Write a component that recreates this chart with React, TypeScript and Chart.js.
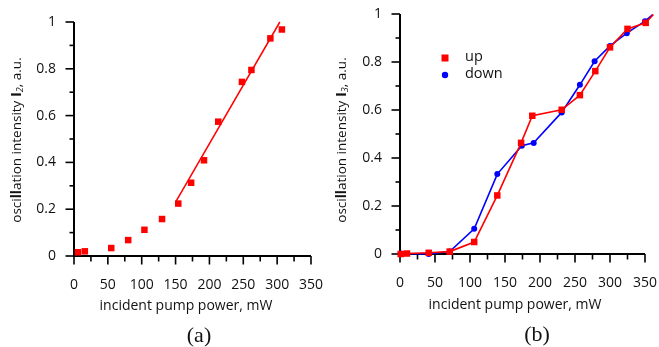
import React, { useEffect, useRef } from 'react';
import { Chart, registerables } from 'chart.js';

Chart.register(...registerables);

// ---- data ----
const powerA = [6, 16, 55, 80, 104, 130, 154, 173, 192, 213, 248, 262, 290, 307];
const intensityA = [0.016, 0.02, 0.034, 0.068, 0.112, 0.158, 0.224, 0.313, 0.409, 0.574, 0.744, 0.795, 0.93, 0.968];
const fitPowerA = [150, 304];
const fitIntensityA = [0.23, 1.0];

const powerUp = [1, 10, 41, 71, 106, 139, 173, 189, 231, 257, 279, 300, 325, 351, 362];
const intensityUp = [0, 0.002, 0.005, 0.01, 0.05, 0.244, 0.463, 0.576, 0.601, 0.662, 0.762, 0.861, 0.938, 0.963, 0.998];
const powerDown = [1, 41, 71, 106, 139, 174, 191, 231, 257, 278, 300, 324, 350, 361];
const intensityDown = [0.002, 0, 0.01, 0.105, 0.333, 0.451, 0.463, 0.59, 0.705, 0.803, 0.867, 0.92, 0.97, 0.998];

const xMin = 0;
const xMax = 350;
const xMajorStep = 50;
const xMinorStep = 25;
const yMin = 0;
const yMax = 1;
const yMajorStep = 0.2;
const yMinorStep = 0.1;

const xTitle = 'incident pump power, mW';
const yTitleSubA = '2';
const yTitleSubB = '3';
const panelA = '(a)';
const panelB = '(b)';
const legendLabels = ['up', 'down'];

const RED = '#ff0000';
const BLUE = '#0000ff';
const FONT = "'Open Sans', 'DejaVu Sans', sans-serif";

const pts = (xs: number[], ys: number[]) => xs.map((x, i) => ({ x, y: ys[i] }));

type PanelCfg = {
  width: number;
  height: number;
  padTop: number;
  padRight: number;
  yWidth: number;
  xHeight: number;
  yTitleX: number;
  yTitleY: number;
  yTitleSub: string;
  xTitleX: number;
  xTitleY: number;
  panel: string;
  panelX: number;
  panelY: number;
  legend?: { x: number; y: number; dy: number; textX: number };
};

function drawVerticalRich(ctx: CanvasRenderingContext2D, cx: number, cy: number, sub: string) {
  const segs = [
    { t: 'osci', f: `13.5px ${FONT}`, dy: 0 },
    { t: 'll', f: `bold 13.5px ${FONT}`, dy: 0 },
    { t: 'ation intensity ', f: `13.5px ${FONT}`, dy: 0 },
    { t: 'I', f: `bold 15px ${FONT}`, dy: 0 },
    { t: sub, f: `italic 9px ${FONT}`, dy: 3 },
    { t: ', a.u.', f: `13.5px ${FONT}`, dy: 0 },
  ];
  let total = 0;
  const widths = segs.map((s) => {
    ctx.font = s.f;
    const w = ctx.measureText(s.t).width;
    total += w;
    return w;
  });
  ctx.save();
  ctx.translate(cx, cy);
  ctx.rotate(-Math.PI / 2);
  ctx.fillStyle = '#111';
  ctx.textBaseline = 'middle';
  ctx.textAlign = 'left';
  let x = -total / 2;
  segs.forEach((s, i) => {
    ctx.font = s.f;
    ctx.fillText(s.t, x, s.dy);
    x += widths[i];
  });
  ctx.restore();
}

function makeDecor(cfg: PanelCfg) {
  return {
    id: 'decor',
    beforeDatasetsDraw(chart: any) {
      const ctx: CanvasRenderingContext2D = chart.ctx;
      const xs = chart.scales.x;
      const ys = chart.scales.y;
      const x0 = xs.getPixelForValue(xMin);
      const x1 = xs.getPixelForValue(xMax);
      const y0 = ys.getPixelForValue(yMin);
      const y1 = ys.getPixelForValue(yMax);
      ctx.save();
      ctx.strokeStyle = '#000';
      ctx.lineWidth = 2;
      ctx.beginPath();
      ctx.moveTo(x0, y1);
      ctx.lineTo(x0, y0);
      ctx.lineTo(x1, y0);
      ctx.stroke();
      ctx.lineWidth = 1.6;
      for (let v = xMin; v <= xMax + 1e-9; v += xMinorStep) {
        const major = Math.abs(v / xMajorStep - Math.round(v / xMajorStep)) < 1e-6;
        const p = xs.getPixelForValue(v);
        ctx.beginPath();
        ctx.moveTo(p, y0);
        ctx.lineTo(p, y0 + (major ? 8.5 : 5.5));
        ctx.stroke();
      }
      for (let v = yMin; v <= yMax + 1e-9; v += yMinorStep) {
        const major = Math.abs(v / yMajorStep - Math.round(v / yMajorStep)) < 1e-6;
        const p = ys.getPixelForValue(v);
        ctx.beginPath();
        ctx.moveTo(x0, p);
        ctx.lineTo(x0 - (major ? 8.5 : 4.5), p);
        ctx.stroke();
      }
      ctx.restore();
    },
    afterDraw(chart: any) {
      const ctx: CanvasRenderingContext2D = chart.ctx;
      ctx.save();
      drawVerticalRich(ctx, cfg.yTitleX, cfg.yTitleY, cfg.yTitleSub);
      ctx.fillStyle = '#111';
      ctx.textAlign = 'center';
      ctx.textBaseline = 'middle';
      ctx.font = `14px ${FONT}`;
      ctx.fillText(xTitle, cfg.xTitleX, cfg.xTitleY);
      ctx.font = `22px 'Liberation Serif', 'Times New Roman', serif`;
      ctx.fillText(cfg.panel, cfg.panelX, cfg.panelY);
      if (cfg.legend) {
        const L = cfg.legend;
        ctx.fillStyle = RED;
        ctx.fillRect(L.x - 3.5, L.y - 3.5, 7, 7);
        ctx.fillStyle = BLUE;
        ctx.beginPath();
        ctx.arc(L.x, L.y + L.dy, 3.2, 0, Math.PI * 2);
        ctx.fill();
        ctx.fillStyle = '#111';
        ctx.textAlign = 'left';
        ctx.font = `14.5px ${FONT}`;
        ctx.fillText(legendLabels[0], L.textX, L.y - 1);
        ctx.fillText(legendLabels[1], L.textX, L.y + L.dy - 1);
      }
      ctx.restore();
    },
  };
}

function buildOptions(cfg: PanelCfg) {
  return {
    animation: false,
    responsive: false,
    devicePixelRatio: 1,
    layout: { padding: { top: cfg.padTop, right: cfg.padRight, left: 0, bottom: 0 } },
    plugins: { legend: { display: false }, tooltip: { enabled: false }, title: { display: false } },
    scales: {
      x: {
        type: 'linear',
        grid: { display: false, drawTicks: false },
        border: { display: false },
        ticks: {
          stepSize: xMajorStep,
          padding: 21,
          color: '#111',
          font: { size: 14, family: FONT },
        },
        afterDataLimits: (s: any) => {
          s.min = xMin;
          s.max = xMax;
        },
        afterFit: (s: any) => {
          s.height = cfg.xHeight;
          s.paddingLeft = 0;
          s.paddingRight = 0;
        },
      },
      y: {
        type: 'linear',
        grid: { display: false, drawTicks: false },
        border: { display: false },
        ticks: {
          stepSize: yMajorStep,
          padding: 18,
          color: '#111',
          font: { size: 14, family: FONT },
          callback: (v: number) => String(Math.round(v * 10) / 10),
        },
        afterDataLimits: (s: any) => {
          s.min = yMin;
          s.max = yMax;
        },
        afterFit: (s: any) => {
          s.width = cfg.yWidth;
          s.paddingTop = 0;
          s.paddingBottom = 0;
        },
      },
    },
  };
}

const cfgA: PanelCfg = {
  width: 330,
  height: 347,
  padTop: 22,
  padRight: 19,
  yWidth: 74,
  xHeight: 91,
  yTitleX: 17,
  yTitleY: 140,
  yTitleSub: yTitleSubA,
  xTitleX: 186,
  xTitleY: 306,
  panel: panelA,
  panelX: 199,
  panelY: 336,
};

const cfgB: PanelCfg = {
  width: 329,
  height: 347,
  padTop: 14,
  padRight: 14,
  yWidth: 70,
  xHeight: 93,
  yTitleX: 12,
  yTitleY: 140,
  yTitleSub: yTitleSubB,
  xTitleX: 185,
  xTitleY: 305,
  panel: panelB,
  panelX: 207,
  panelY: 335,
  legend: { x: 115, y: 58, dy: 17, textX: 135 },
};

function PanelA() {
  const ref = useRef<HTMLCanvasElement>(null);
  useEffect(() => {
    if (!ref.current) return;
    const chart = new Chart(ref.current, {
      type: 'scatter',
      data: {
        datasets: [
          {
            data: pts(powerA, intensityA),
            pointStyle: 'rect',
            pointRadius: 4.6,
            backgroundColor: RED,
            borderColor: RED,
            borderWidth: 0,
            showLine: false,
            clip: false,
          },
          {
            data: pts(fitPowerA, fitIntensityA),
            pointRadius: 0,
            borderColor: RED,
            borderWidth: 1.5,
            showLine: true,
            clip: false,
          },
        ],
      },
      options: buildOptions(cfgA) as any,
      plugins: [makeDecor(cfgA)],
    });
    return () => chart.destroy();
  }, []);
  return <canvas ref={ref} width={cfgA.width} height={cfgA.height} style={{ display: 'block' }} />;
}

function PanelB() {
  const ref = useRef<HTMLCanvasElement>(null);
  useEffect(() => {
    if (!ref.current) return;
    const chart = new Chart(ref.current, {
      type: 'scatter',
      data: {
        datasets: [
          {
            label: legendLabels[0],
            data: pts(powerUp, intensityUp),
            pointStyle: 'rect',
            pointRadius: 4.6,
            backgroundColor: RED,
            borderColor: RED,
            borderWidth: 1.6,
            pointBorderWidth: 0,
            showLine: true,
            clip: false,
          },
          {
            label: legendLabels[1],
            data: pts(powerDown, intensityDown),
            pointStyle: 'circle',
            pointRadius: 3,
            backgroundColor: BLUE,
            borderColor: BLUE,
            borderWidth: 1.6,
            pointBorderWidth: 0,
            showLine: true,
            clip: false,
          },
        ],
      },
      options: buildOptions(cfgB) as any,
      plugins: [makeDecor(cfgB)],
    });
    return () => chart.destroy();
  }, []);
  return <canvas ref={ref} width={cfgB.width} height={cfgB.height} style={{ display: 'block' }} />;
}

export default function App() {
  return (
    <div
      style={{
        position: 'fixed',
        left: 0,
        top: 0,
        width: 659,
        height: 347,
        display: 'flex',
        background: '#fff',
      }}
    >
      <PanelA />
      <PanelB />
    </div>
  );
}
